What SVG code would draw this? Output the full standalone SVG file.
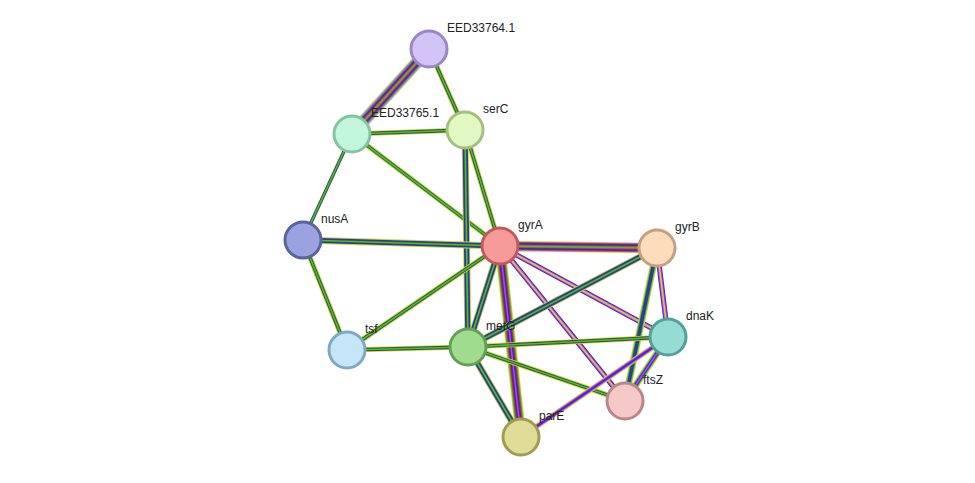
<svg xmlns="http://www.w3.org/2000/svg" xmlns:xlink="http://www.w3.org/1999/xlink" width="975" height="483" viewBox="0 0 975 483">
<style>
use{fill:none}
.Y{stroke:#c8d832}.K{stroke:#444}.G{stroke:#3ac43a}.B{stroke:#2a2ae8}.R{stroke:#e83030}.M{stroke:#d832d8}.C{stroke:#30c0d8}
.w1{stroke-width:1.6}.w2{stroke-width:3.4}.w3{stroke-width:5.2}.w4{stroke-width:7}.w5{stroke-width:8.8}.w6{stroke-width:10.6}.w7{stroke-width:12.4}
.n circle{stroke-width:3}
.n text{font-family:"Liberation Sans",Arial,sans-serif;font-size:12px;fill:#222}
</style>
<defs>
<path id="e1" d="M429 49L352 134"/><path id="e2" d="M429 49L465 130"/><path id="e3" d="M352 134L465 130"/>
<path id="e4" d="M352 134L303 240"/><path id="e5" d="M352 134L500 246"/><path id="e6" d="M465 130L500 246"/>
<path id="e7" d="M465 130L468 347"/><path id="e8" d="M303 240L500 246"/><path id="e9" d="M303 240L347 350"/>
<path id="e10" d="M347 350L500 246"/><path id="e11" d="M347 350L468 347"/><path id="e12" d="M500 246L657 248"/>
<path id="e13" d="M500 246L468 347"/><path id="e14" d="M500 246L668 337"/><path id="e15" d="M500 246L625 401"/>
<path id="e16" d="M500 246L521 437"/><path id="e17" d="M657 248L468 347"/><path id="e18" d="M657 248L668 337"/>
<path id="e19" d="M657 248L625 401"/><path id="e20" d="M468 347L668 337"/><path id="e21" d="M468 347L625 401"/>
<path id="e22" d="M468 347L521 437"/><path id="e23" d="M668 337L625 401"/><path id="e24" d="M668 337L521 437"/>
</defs>
<g id="connectors">
<use href="#e1" class="Y w7"/><use href="#e1" class="C w6"/><use href="#e1" class="M w5"/><use href="#e1" class="K w4"/><use href="#e1" class="B w3"/><use href="#e1" class="R w2"/><use href="#e1" class="G w1"/>
<use href="#e2" class="Y w3"/><use href="#e2" class="K w2"/><use href="#e2" class="G w1"/>
<use href="#e3" class="Y w3"/><use href="#e3" class="K w2"/><use href="#e3" class="G w1"/>
<use href="#e4" class="K w2"/><use href="#e4" class="G w1"/>
<use href="#e5" class="Y w3"/><use href="#e5" class="K w2"/><use href="#e5" class="G w1"/>
<use href="#e6" class="Y w3"/><use href="#e6" class="K w2"/><use href="#e6" class="G w1"/>
<use href="#e7" class="Y w4"/><use href="#e7" class="B w3"/><use href="#e7" class="K w2"/><use href="#e7" class="G w1"/>
<use href="#e8" class="Y w4"/><use href="#e8" class="B w3"/><use href="#e8" class="K w2"/><use href="#e8" class="G w1"/>
<use href="#e9" class="Y w3"/><use href="#e9" class="K w2"/><use href="#e9" class="G w1"/>
<use href="#e10" class="Y w3"/><use href="#e10" class="K w2"/><use href="#e10" class="G w1"/>
<use href="#e11" class="Y w3"/><use href="#e11" class="K w2"/><use href="#e11" class="G w1"/>
<use href="#e12" class="Y w6"/><use href="#e12" class="M w5"/><use href="#e12" class="K w4"/><use href="#e12" class="B w3"/><use href="#e12" class="R w2"/><use href="#e12" class="G w1"/>
<use href="#e13" class="Y w4"/><use href="#e13" class="B w3"/><use href="#e13" class="K w2"/><use href="#e13" class="G w1"/>
<use href="#e14" class="B w3"/><use href="#e14" class="M w2"/><use href="#e14" class="Y w1"/>
<use href="#e15" class="B w3"/><use href="#e15" class="M w2"/><use href="#e15" class="Y w1"/>
<use href="#e16" class="Y w6"/><use href="#e16" class="G w5"/><use href="#e16" class="R w4"/><use href="#e16" class="K w3"/><use href="#e16" class="B w2"/><use href="#e16" class="M w1"/>
<use href="#e17" class="Y w4"/><use href="#e17" class="B w3"/><use href="#e17" class="K w2"/><use href="#e17" class="G w1"/>
<use href="#e18" class="B w3"/><use href="#e18" class="M w2"/><use href="#e18" class="Y w1"/>
<use href="#e19" class="Y w4"/><use href="#e19" class="G w3"/><use href="#e19" class="B w2"/><use href="#e19" class="K w1"/>
<use href="#e20" class="Y w3"/><use href="#e20" class="K w2"/><use href="#e20" class="G w1"/>
<use href="#e21" class="Y w3"/><use href="#e21" class="K w2"/><use href="#e21" class="G w1"/>
<use href="#e22" class="Y w4"/><use href="#e22" class="B w3"/><use href="#e22" class="K w2"/><use href="#e22" class="G w1"/>
<use href="#e23" class="Y w4"/><use href="#e23" class="G w3"/><use href="#e23" class="B w2"/><use href="#e23" class="M w1"/>
<use href="#e24" class="Y w3"/><use href="#e24" class="M w2"/><use href="#e24" class="B w1"/>
</g>
<g id="EED33764.1" class="n"><circle cx="429" cy="49" r="18" fill="#d2c4f7" stroke="#9a86c8"/><text x="447" y="32">EED33764.1</text></g>
<g id="EED33765.1" class="n"><circle cx="352" cy="134" r="18" fill="#c2f7dc" stroke="#84c4a0"/><text x="371" y="117">EED33765.1</text></g>
<g id="serC" class="n"><circle cx="465" cy="130" r="18" fill="#e2f8c2" stroke="#a4c080"/><text x="483" y="113">serC</text></g>
<g id="nusA" class="n"><circle cx="303" cy="240" r="18" fill="#9aa3e0" stroke="#5a62a0"/><text x="321" y="223">nusA</text></g>
<g id="gyrA" class="n"><circle cx="500" cy="246" r="18" fill="#f79a9a" stroke="#c05a5a"/><text x="518" y="229">gyrA</text></g>
<g id="gyrB" class="n"><circle cx="657" cy="248" r="18" fill="#fddcbc" stroke="#c4a080"/><text x="675" y="231">gyrB</text></g>
<g id="tsf" class="n"><circle cx="347" cy="350" r="18" fill="#c4e6f8" stroke="#80a8c4"/><text x="365" y="333">tsf</text></g>
<g id="metG" class="n"><circle cx="468" cy="347" r="18" fill="#a0dc8e" stroke="#62a056"/><text x="486" y="330">metG</text></g>
<g id="dnaK" class="n"><circle cx="668" cy="337" r="18" fill="#94dcd4" stroke="#54a098"/><text x="686" y="320">dnaK</text></g>
<g id="ftsZ" class="n"><circle cx="625" cy="401" r="18" fill="#f7c8c8" stroke="#b88888"/><text x="643" y="384">ftsZ</text></g>
<g id="parE" class="n"><circle cx="521" cy="437" r="18" fill="#dedc96" stroke="#a09c50"/><text x="539" y="420">parE</text></g>
</svg>
